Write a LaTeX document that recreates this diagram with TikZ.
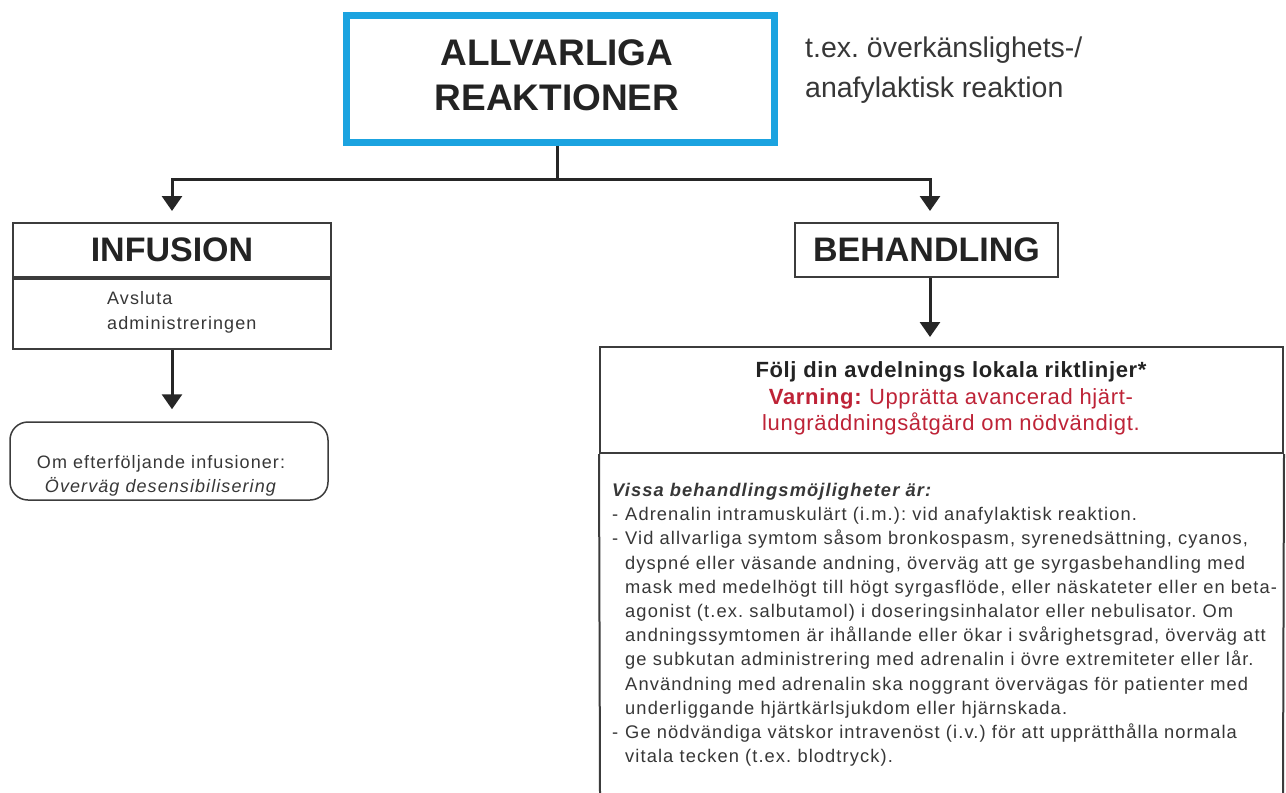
\documentclass[tikz,border=0pt]{standalone}
\usepackage{fontspec}
\setmainfont{Liberation Sans}
\newfontfamily\spacedfont{Liberation Sans}[LetterSpace=6]
\newfontfamily\hdrfont{Liberation Sans}[LetterSpace=3]
\usetikzlibrary{arrows.meta}
\definecolor{topblue}{RGB}{27,163,224}
\definecolor{warnred}{RGB}{190,35,55}
\definecolor{txt}{RGB}{35,35,35}
\definecolor{bodytxt}{RGB}{55,55,55}
\definecolor{edge}{RGB}{60,60,60}
\newcommand\dashitem{\makebox[13pt][l]{-}}
\newcommand\contind{\hspace*{13pt}}
\frenchspacing
\begin{document}
\begin{tikzpicture}[x=1pt,y=-1pt,
  box/.style={draw=edge, line width=2pt, inner sep=0pt},
  headtext/.style={font=\bfseries\fontsize{34}{40}\selectfont, text=txt},
  smalltext/.style={inner sep=0pt, text=bodytxt},
  trunk/.style={line width=3pt, draw=black!85},
  conn/.style={trunk, -{Triangle[width=20pt,length=15pt]}}]
\useasboundingbox (0,0) rectangle (1286,793);
\fill[white] (0,0) rectangle (1286,793);

% top box
\node[draw=topblue, line width=7pt, minimum width=428pt, minimum height=127pt, inner sep=0pt] (top) at (560,78.5) {};
\node[align=center, inner sep=0pt, text=txt, font=\bfseries\fontsize{37}{45}\selectfont] (toptext) at (557,75) {ALLVARLIGA\\REAKTIONER};
\node[anchor=west, align=left, inner sep=0pt, text=bodytxt, font=\fontsize{28.5}{40.5}\selectfont] (side) at (805,70) {t.ex. överkänslighets-/\\anafylaktisk reaktion};

% infusion
\node[box, minimum width=318pt, minimum height=54pt, headtext] (infhead) at (172,250) {INFUSION};
\node[box, minimum width=318pt, minimum height=70pt, anchor=north] (infbody) at (infhead.south) {};
\node[smalltext, anchor=west, align=left, font=\spacedfont\fontsize{18}{25}\selectfont] (inftext) at (107,312.6) {Avsluta\\administreringen};

\node[draw=edge, line width=1.5pt, rounded corners=18pt, minimum width=318pt, minimum height=78pt, inner sep=0pt] (consider) at (169,461) {};
\node[smalltext, align=center, font=\spacedfont\fontsize{18}{24}\selectfont] (considertext) at (161,476) {Om efterföljande infusioner:\\\textit{Överväg desensibilisering}};

% behandling
\node[box, minimum width=263pt, minimum height=54pt, headtext] (beh) at (926.5,250) {BEHANDLING};

\node[draw=edge, line width=2pt, minimum width=683pt, minimum height=106pt, inner sep=0pt] (bigtop) at (941.5,400) {};
\coordinate (bl) at (600,793);
\coordinate (br) at (1283,793);
\draw[draw=edge, line width=2pt] (bigtop.south west) -- (bl);
\draw[draw=edge, line width=2pt] (bigtop.south east) -- (br);

\node[align=center, inner sep=0pt, text=txt, font=\hdrfont\fontsize{22}{26.3}\selectfont] (hdr) at (951,398.5)
 {{\bfseries Följ din avdelnings lokala riktlinjer*}\\
  \textcolor{warnred}{\textbf{Varning:} Upprätta avancerad hjärt-}\\
  \textcolor{warnred}{lungräddningsåtgärd om nödvändigt.}};

\node[smalltext, anchor=north west, align=left, font=\spacedfont\fontsize{18.3}{24.2}\selectfont] (body) at (612,483)
 {{\bfseries\itshape Vissa behandlingsmöjligheter är:}\\
  \dashitem Adrenalin intramuskulärt (i.m.): vid anafylaktisk reaktion.\\
  \dashitem Vid allvarliga symtom såsom bronkospasm, syrenedsättning, cyanos,\\
  \contind dyspné eller väsande andning, överväg att ge syrgasbehandling med\\
  \contind mask med medelhögt till högt syrgasflöde, eller näskateter eller en beta-\\
  \contind agonist (t.ex. salbutamol) i doseringsinhalator eller nebulisator. Om\\
  \contind andningssymtomen är ihållande eller ökar i svårighetsgrad, överväg att\\
  \contind ge subkutan administrering med adrenalin i övre extremiteter eller lår.\\
  \contind Användning med adrenalin ska noggrant övervägas för patienter med\\
  \contind underliggande hjärtkärlsjukdom eller hjärnskada.\\
  \dashitem Ge nödvändiga vätskor intravenöst (i.v.) för att upprätthålla normala\\
  \contind vitala tecken (t.ex. blodtryck).};

% connectors
\path (top.south) ++(-3,34) coordinate (fork);
\draw[trunk] (top.south -| fork) -- (fork);
\draw[conn, shorten >=11pt] (fork) -| (infhead.north);
\draw[conn, shorten >=11pt] (fork) -| ([xshift=3.5pt]beh.north);
\draw[conn, shorten >=12pt] (infbody.south) -- (infbody.south |- consider.north);
\draw[conn, shorten >=9pt] ([xshift=3.5pt]beh.south) -- ([xshift=3.5pt]beh.south |- bigtop.north);
\end{tikzpicture}
\end{document}
